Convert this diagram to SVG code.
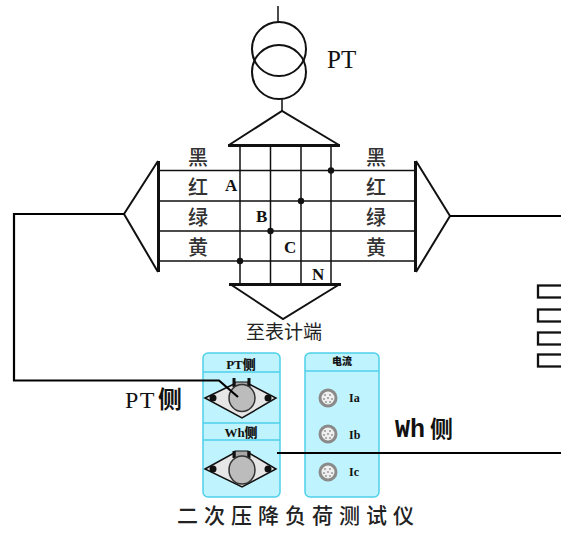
<svg xmlns="http://www.w3.org/2000/svg" width="561" height="534" viewBox="0 0 561 534">
<style>
.l{fill:none;stroke:#111;stroke-width:1.5}
.m{fill:none;stroke:#111;stroke-width:2}
.w{fill:none;stroke:#000;stroke-width:2.2}
.h{fill:none;stroke:#111;stroke-width:3}
.r{fill:none;stroke:#111;stroke-width:2.300}
.s{font-family:"Noto Sans CJK SC",sans-serif;font-size:20px;font-weight:500;fill:#333}
.t{font-family:"Liberation Serif",serif;fill:#111}
.b{font-family:"Liberation Serif",serif;font-weight:700;font-size:17px;fill:#111}
.p{fill:#bff3fd;stroke:#4fd0ea;stroke-width:1.5}
.d{stroke:#4fd0ea;stroke-width:1.5}
.dia{fill:#e6e6e6;stroke:#111;stroke-width:1.5}
.o{fill:#bcbcbc;stroke:#333;stroke-width:1.5}
.g{fill:#efefef;stroke:#8a8a8a;stroke-width:3}
.k{fill:#9a9a9a}
.n{fill:#111}
</style>
<defs>
<g id="sock">
<circle class="g" r="8"/>
<circle class="k" cx="-3" cy="-3" r="1"/><circle class="k" cx="2" cy="-3" r="1"/>
<circle class="k" cx="-4" cy="1" r="1"/><circle class="k" cx="0" cy="0" r="1"/><circle class="k" cx="4" cy="1" r="1"/>
<circle class="k" cx="-2" cy="4" r="1"/><circle class="k" cx="2" cy="4" r="1"/>
</g>
</defs>
<rect width="561" height="534" fill="#fff"/>
<g id="pt-transformer">
<path class="l" d="M278 6V22M282 99V111"/>
<circle class="m" cx="279" cy="49" r="27"/>
<circle class="m" cx="279" cy="72" r="27"/>
<text class="t" x="327" y="68" font-size="25">PT</text>
</g>
<g id="top-bus">
<path class="m" d="M229 145L282 111L339 145"/>
<path class="h" d="M228 145.500H340"/>
</g>
<g id="bottom-bus">
<path class="m" d="M230 284L283 319L340 284"/>
<path class="h" d="M229 284.500H341"/>
</g>
<g id="left-bus">
<path class="h" d="M158.500 161V272"/>
<path class="m" d="M158 161L124 214L158 272"/>
</g>
<g id="right-bus">
<path class="h" d="M415.500 161V272"/>
<path class="m" d="M416 161L450 216L416 272"/>
</g>
<g id="bus-grid">
<path class="l" d="M159 170.500H415M159 201H415M159 231H415M159 261H415"/>
<path class="l" d="M240 145V284M270.500 145V284M301 145V284M331 145V284"/>
<circle class="n" cx="331" cy="170.500" r="3.200"/>
<circle class="n" cx="301" cy="201" r="3.200"/>
<circle class="n" cx="270.500" cy="231" r="3.200"/>
<circle class="n" cx="240" cy="261" r="3.200"/>
</g>
<g id="wire-labels-left">
<text class="s" x="188" y="165">黑</text>
<text class="s" x="188" y="195">红</text>
<text class="s" x="188" y="225">绿</text>
<text class="s" x="188" y="255">黄</text>
</g>
<g id="wire-labels-right">
<text class="s" x="366" y="165">黑</text>
<text class="s" x="366" y="195">红</text>
<text class="s" x="366" y="225">绿</text>
<text class="s" x="366" y="255">黄</text>
</g>
<g id="phase-labels">
<text class="b" x="225" y="191">A</text>
<text class="b" x="256" y="222">B</text>
<text class="b" x="284" y="253">C</text>
<text class="b" x="312" y="280">N</text>
</g>
<text id="meter-label" x="246" y="339" font-family="'Noto Sans CJK SC',sans-serif" font-size="19" fill="#222">至表计端</text>
<g id="terminal-block">
<rect class="r" x="538" y="285.500" width="30" height="12"/>
<rect class="r" x="538" y="309.500" width="30" height="12"/>
<rect class="r" x="538" y="332.500" width="30" height="12"/>
<rect class="r" x="538" y="354.500" width="30" height="12"/>
</g>
<text id="pt-side-label" x="125" y="408" font-family="'Liberation Serif','Noto Sans CJK SC',serif" font-size="24" letter-spacing="1.500" fill="#111">PT<tspan font-family="'Noto Sans CJK SC',sans-serif" font-weight="700" dx="2">侧</tspan></text>
<text id="wh-side-label" x="395" y="437" font-family="'Liberation Mono','Noto Sans CJK SC',monospace" font-size="25" font-weight="700" fill="#111">Wh<tspan font-family="'Noto Sans CJK SC',sans-serif" font-size="23" dx="5">侧</tspan></text>
<g id="voltage-panel">
<rect class="p" x="203" y="353" width="77" height="144" rx="5"/>
<path class="d" d="M203 372H280M203 423H280M203 440H280"/>
<text x="241" y="369" text-anchor="middle" font-family="'Liberation Serif','Noto Sans CJK SC',serif" font-size="13" font-weight="700" fill="#111">PT<tspan font-family="'Noto Sans CJK SC',sans-serif" font-weight="900">侧</tspan></text>
<text x="241" y="437" text-anchor="middle" font-family="'Liberation Serif','Noto Sans CJK SC',serif" font-size="13" font-weight="700" fill="#111">Wh<tspan font-family="'Noto Sans CJK SC',sans-serif" font-weight="900">侧</tspan></text>
<path class="dia" d="M205 398L234 384H249L276 398L242 418Z"/>
<circle class="n" cx="213" cy="398" r="3.500"/>
<circle class="n" cx="268" cy="398" r="3.500"/>
<rect x="235" y="382" width="13" height="8" fill="#a8a8a8" stroke="#111"/>
<path class="h" d="M234 378V387M249 378V387"/>
<ellipse class="o" cx="242" cy="398" rx="13" ry="13.500"/>
<path class="dia" d="M205 469L234 453H249L276 469L242 487Z"/>
<circle class="n" cx="213" cy="469" r="3.500"/>
<circle class="n" cx="268" cy="469" r="3.500"/>
<rect x="235" y="451" width="13" height="8" fill="#a8a8a8" stroke="#111"/>
<path class="h" d="M234 451V458M249 451V458"/>
<ellipse class="o" cx="242" cy="470" rx="13" ry="14"/>
</g>
<g id="current-panel">
<rect class="p" x="305" y="353" width="74" height="144" rx="5"/>
<path class="d" d="M305 371H379"/>
<text x="342" y="365" text-anchor="middle" font-family="'Noto Sans CJK SC',sans-serif" font-size="10" font-weight="900" fill="#111">电流</text>
<use href="#sock" x="328" y="398"/>
<use href="#sock" x="328" y="434"/>
<use href="#sock" x="328" y="472"/>
<text class="t" x="349" y="402" font-size="12" font-weight="700">Ia</text>
<text class="t" x="349" y="439" font-size="12" font-weight="700">Ib</text>
<text class="t" x="349" y="476" font-size="12" font-weight="700">Ic</text>
</g>
<g id="connectors">
<path class="w" d="M124 214H14V380.500H219L238 397"/>
<path class="w" d="M450 216H561"/>
<path class="w" d="M277 453H561"/>
</g>
<text id="title" x="177" y="523" font-family="'Noto Sans CJK SC',sans-serif" font-size="21" font-weight="500" fill="#222" letter-spacing="6">二次压降负荷测试仪</text>
</svg>
